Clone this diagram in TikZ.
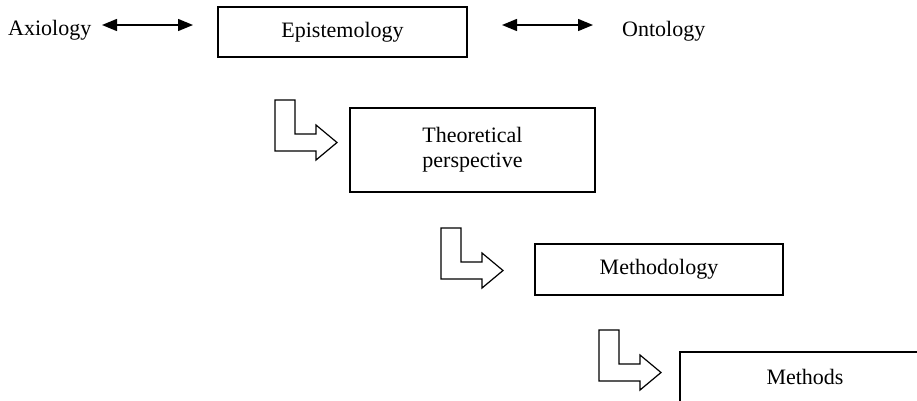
\documentclass[tikz,border=0pt]{standalone}
\usepackage{fontspec}
\setmainfont{Liberation Serif}
\usetikzlibrary{arrows.meta}
\tikzset{
  lbl/.style={font=\fontsize{22}{26}\selectfont, inner sep=0pt},
  box/.style={draw, line width=1.2pt, align=center, font=\fontsize{22}{25}\selectfont, inner sep=0pt},
  dbl/.style={{Triangle[length=15pt,width=12pt]}-{Triangle[length=15pt,width=12pt]}, line width=1.4pt},
  bentarrow/.pic={\draw[line width=1.2pt, line join=miter] (0,0) -- (20,0) -- (20,34) -- (41,34) -- (41,25) -- (62,42.5) -- (41,60) -- (41,51) -- (0,51) -- cycle;}
}
\begin{document}
\begin{tikzpicture}[x=1pt,y=-1pt]
\useasboundingbox (0,0) rectangle (917,400);
\clip (0,0) rectangle (917,400);
% top row
\node[lbl, anchor=base west] (axio) at (8,35) {Axiology};
\node[box, minimum width=249pt, minimum height=50pt] (epi) at (342.5,32) {Epistemology};
\node[lbl, anchor=base west] (onto) at (622,36) {Ontology};
\coordinate (a1) at (102,25);
\coordinate (a2) at (193,25);
\coordinate (b1) at (502,25);
\coordinate (b2) at (593,25);
\draw[dbl] (a1) -- (a2);
\draw[dbl] (b1) -- (b2);
% boxes
\node[box, minimum width=245pt, minimum height=84pt] (theo) at (472.5,150) {Theoretical\\perspective};
\node[box, minimum width=248pt, minimum height=51pt] (meth) at (659,269.5) {Methodology};
\node[box, minimum width=250pt, minimum height=50pt] (mets) at (805,377) {Methods};
% bent arrows
\pic at (275,100) {bentarrow};
\pic at (441,228) {bentarrow};
\pic at (599,330) {bentarrow};
\end{tikzpicture}
\end{document}
